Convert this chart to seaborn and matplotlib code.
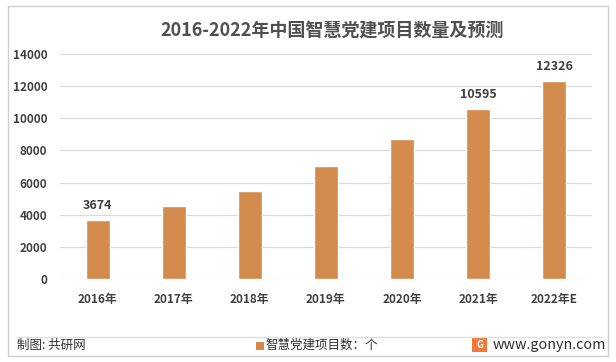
import matplotlib
matplotlib.use('Agg')
import matplotlib.pyplot as plt
import seaborn as sns
import pandas as pd
from matplotlib.patches import Rectangle

years = ['2016年', '2017年', '2018年', '2019年', '2020年', '2021年', '2022年E']
projects = [3674, 4540, 5470, 7030, 8700, 10595, 12326]
labelled = ['2016年', '2021年', '2022年E']

sns.set_style('white')
plt.rcParams['font.family'] = ['Noto Sans CJK SC', 'DejaVu Sans']

df = pd.DataFrame({'year': years, 'count': projects})
bar_color = '#D38B4D'
text_color = '#404040'

fig = plt.figure(figsize=(6.16, 3.62), dpi=100)
ax = fig.add_axes([0.097, 0.229, 0.864, 0.622])

sns.barplot(data=df, x='year', y='count', color=bar_color, width=0.32,
            saturation=1, ax=ax)

ax.set_ylim(0, 14000)
ax.set_yticks(range(0, 14001, 2000))
ax.yaxis.grid(True, color='#d9d9d9', linewidth=0.9)
ax.set_axisbelow(True)
for s in ax.spines.values():
    s.set_visible(False)
ax.set_xlabel('')
ax.set_ylabel('')
ax.tick_params(axis='both', length=0, labelsize=8.5, colors=text_color)
ax.tick_params(axis='y', pad=9)
ax.tick_params(axis='x', pad=10)
for t in ax.get_xticklabels() + ax.get_yticklabels():
    t.set_fontweight('bold')

for i, (y, v) in enumerate(zip(years, projects)):
    if y in labelled:
        ax.text(i, v + 500, str(v), ha='center', va='bottom', fontsize=9,
                fontweight='bold', color=text_color)

fig.text(0.539, 0.917, '2016-2022年中国智慧党建项目数量及预测', ha='center', va='center',
         fontsize=13, fontweight='bold', color='#505050')

# outer frame and footer separator
fig.patches.append(Rectangle((0.013, 0.017), 0.974, 0.966, transform=fig.transFigure,
                             fill=False, edgecolor='#d0d0d0', linewidth=1))
fig.lines.append(plt.Line2D([0.027, 0.975], [0.07, 0.07], transform=fig.transFigure,
                            color='#e0e0e0', linewidth=1))

fig.text(0.027, 0.045, '制图: 共研网', ha='left', va='center', fontsize=9, color='#303030')
fig.patches.append(Rectangle((0.415, 0.034), 0.013, 0.022, transform=fig.transFigure,
                             facecolor=bar_color, edgecolor='none'))
fig.text(0.431, 0.047, '智慧党建项目数：个', ha='left', va='center', fontsize=9, color='#303030')

fig.patches.append(Rectangle((0.767, 0.028), 0.024, 0.040, transform=fig.transFigure,
                             facecolor='#F07A3A', edgecolor='none'))
fig.text(0.779, 0.047, 'G', ha='center', va='center', fontsize=7, fontweight='bold',
         color='white')
fig.text(0.799, 0.047, 'www.gonyn.com', ha='left', va='center', fontsize=10.3, color='#303030')

fig.savefig('out.png', dpi=100)
